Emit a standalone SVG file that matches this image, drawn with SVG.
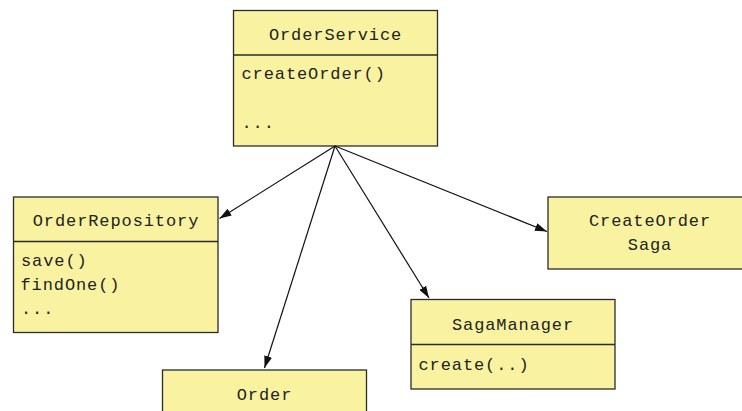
<svg xmlns="http://www.w3.org/2000/svg" width="742" height="411" viewBox="0 0 742 411">
<style>
.box{fill:#f9f3a1;stroke:#2b2b2b;stroke-width:1.3}
.div{stroke:#2b2b2b;stroke-width:1.3}
text{font-family:"Liberation Mono","Courier New",monospace;font-size:17px;letter-spacing:0.9px;fill:#222}
.c{text-anchor:middle}
.conn line{stroke:#111;stroke-width:1.2}
</style>
<defs>
<marker id="ah" viewBox="0 0 12 8" refX="12" refY="4" markerWidth="12" markerHeight="8" markerUnits="userSpaceOnUse" orient="auto">
<path d="M0,0 L12,4 L0,8 Z" fill="#111"/>
</marker>
</defs>
<rect width="742" height="411" fill="#fff"/>
<g id="OrderService">
<rect class="box" x="233.5" y="10.5" width="204" height="135.5"/>
<line class="div" x1="233.5" y1="55" x2="437.5" y2="55"/>
<text class="c" x="335.5" y="39.5">OrderService</text>
<text x="241.5" y="79">createOrder()</text>
<text x="241.5" y="128">...</text>
</g>
<g id="OrderRepository">
<rect class="box" x="13.5" y="197" width="204.5" height="135.5"/>
<line class="div" x1="13.5" y1="241.5" x2="218" y2="241.5"/>
<text class="c" x="116" y="226">OrderRepository</text>
<text x="21" y="266">save()</text>
<text x="20.5" y="290">findOne()</text>
<text x="21" y="314">...</text>
</g>
<g id="CreateOrderSaga">
<rect class="box" x="548" y="197" width="204" height="72"/>
<text class="c" x="650" y="226">CreateOrder</text>
<text class="c" x="650" y="250">Saga</text>
</g>
<g id="SagaManager">
<rect class="box" x="411" y="299.5" width="204" height="89.5"/>
<line class="div" x1="411" y1="344.5" x2="615" y2="344.5"/>
<text class="c" x="513" y="329.5">SagaManager</text>
<text x="418.5" y="370">create(..)</text>
</g>
<g id="Order">
<rect class="box" x="162.5" y="370" width="204" height="60"/>
<text class="c" x="264.5" y="399.5">Order</text>
</g>
<g class="conn" id="connectors">
<line x1="335" y1="146" x2="219.5" y2="218.5" marker-end="url(#ah)"/>
<line x1="335" y1="146" x2="264.5" y2="368" marker-end="url(#ah)"/>
<line x1="335" y1="146" x2="429" y2="298" marker-end="url(#ah)"/>
<line x1="335" y1="146" x2="547" y2="231.5" marker-end="url(#ah)"/>
</g>
</svg>
